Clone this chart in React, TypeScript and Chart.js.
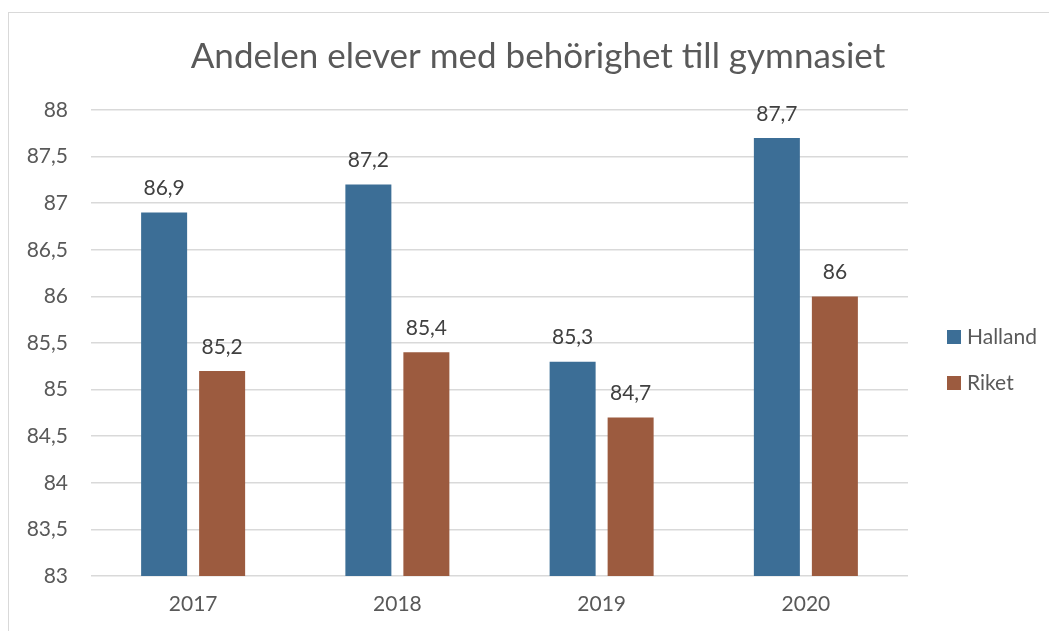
import React, { useEffect, useRef } from "react";
import { Chart, registerables } from "chart.js";

Chart.register(...registerables);

const categories = ["2017", "2018", "2019", "2020"];
const hallandValues = [86.9, 87.2, 85.3, 87.7];
const riketValues = [85.2, 85.4, 84.7, 86];
const seriesNames = ["Halland", "Riket"];
const seriesColors = ["#3C6E96", "#9C5B3F"];
const yMin = 83;
const yMax = 88;
const yStep = 0.5;
const titleText = "Andelen elever med behörighet till gymnasiet";

const FONT = "Lato";
const fmt = (v: number) => String(v).replace(".", ",");

const labelPlugin = {
  id: "barLabels",
  afterDatasetsDraw(chart: any) {
    const ctx = chart.ctx;
    ctx.save();
    ctx.font = `21px ${FONT}`;
    ctx.fillStyle = "#404040";
    ctx.textAlign = "center";
    ctx.textBaseline = "middle";
    chart.data.datasets.forEach((ds: any, i: number) => {
      const meta = chart.getDatasetMeta(i);
      meta.data.forEach((el: any, j: number) => {
        ctx.fillText(fmt(ds.data[j]), el.x, el.y - 24);
      });
    });
    ctx.restore();
  },
};

const legendPlugin = {
  id: "customLegend",
  afterDraw(chart: any) {
    const ctx = chart.ctx;
    const area = chart.chartArea;
    ctx.save();
    ctx.font = `21px ${FONT}`;
    ctx.textBaseline = "middle";
    ctx.textAlign = "left";
    const x = area.right + 39;
    const yStart = 324;
    chart.data.datasets.forEach((ds: any, i: number) => {
      const y = yStart + i * 46;
      ctx.fillStyle = ds.backgroundColor;
      ctx.fillRect(x, y - 7, 14, 14);
      ctx.fillStyle = "#595959";
      ctx.fillText(ds.label, x + 20, y);
    });
    ctx.restore();
  },
};

export default function App() {
  const ref = useRef<HTMLCanvasElement | null>(null);
  useEffect(() => {
    document.body.style.overflow = "hidden";
    const chart = new Chart(ref.current as HTMLCanvasElement, {
      type: "bar",
      data: {
        labels: categories,
        datasets: [
          { label: seriesNames[0], data: hallandValues, backgroundColor: seriesColors[0], yAxisID: "y" },
          { label: seriesNames[1], data: riketValues, backgroundColor: seriesColors[1], yAxisID: "y" },
        ],
      },
      options: {
        animation: false,
        responsive: true,
        maintainAspectRatio: false,
        layout: { padding: 0 },
        datasets: {
          bar: { categoryPercentage: 0.568, barPercentage: 0.793 },
        } as any,
        plugins: {
          legend: { display: false },
          tooltip: { enabled: false },
          title: {
            display: true,
            text: titleText,
            color: "#595959",
            font: { family: FONT, size: 35, weight: "normal" },
            padding: { top: 23, bottom: 32 },
          },
        },
        scales: {
          x: {
            grid: { display: false, drawTicks: false },
            border: { display: false },
            ticks: { color: "#595959", font: { family: FONT, size: 21 }, padding: 16 },
            afterFit: (s: any) => {
              s.height = 55;
            },
          },
          y: {
            min: yMin,
            max: yMax,
            grid: { color: "#d9d9d9", drawTicks: false, lineWidth: 1.5 },
            border: { display: false },
            ticks: {
              stepSize: yStep,
              color: "#595959",
              font: { family: FONT, size: 21 },
              padding: 23,
              callback: (v: any) => fmt(Number(v)),
            },
            afterFit: (s: any) => {
              s.width = 82;
            },
          },
          legendSpace: {
            type: "linear",
            position: "right",
            display: true,
            grid: { display: false, drawTicks: false },
            border: { display: false },
            ticks: { display: false },
            afterFit: (s: any) => {
              s.width = 159;
            },
          },
        } as any,
      },
      plugins: [labelPlugin, legendPlugin],
    });
    return () => chart.destroy();
  }, []);

  return (
    <div style={{ marginTop: 4, width: 1075, height: 640, border: "1px solid #d9d9d9", boxSizing: "border-box", background: "#fff" }}>
      <div style={{ width: 1058, height: 618, position: "relative" }}>
        <canvas ref={ref} />
      </div>
    </div>
  );
}
